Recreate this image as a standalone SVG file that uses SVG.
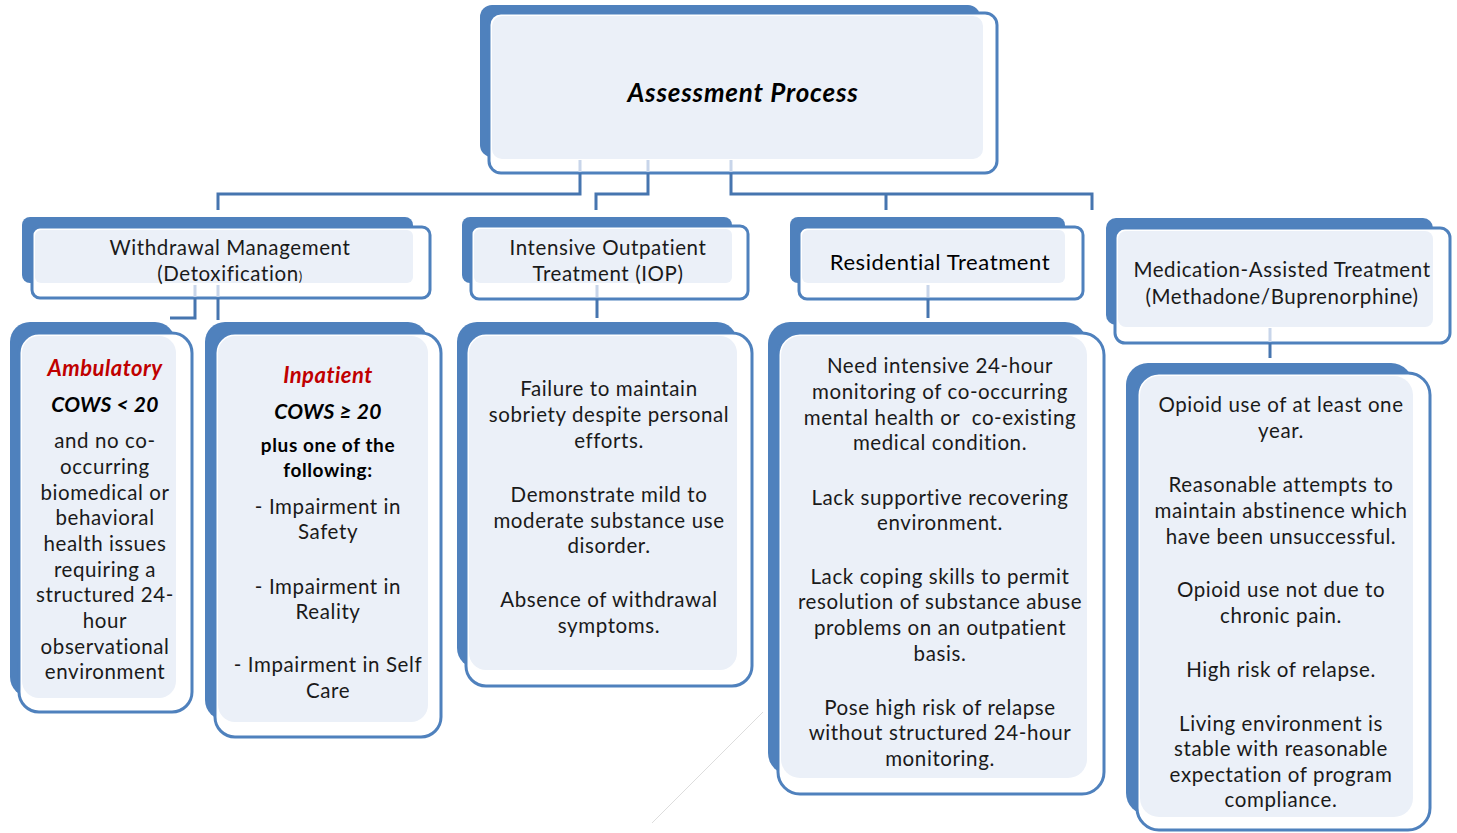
<svg xmlns="http://www.w3.org/2000/svg" width="1457" height="833" viewBox="0 0 1457 833">
<style>
.back{fill:#4F81BD}
.out{fill:#FFFFFF;stroke:#4F81BD;stroke-width:3}
.fill{fill:#EBF0F8}
.con{fill:none;stroke:#4675AF;stroke-width:3}
.faint{fill:none;stroke:#C8D5EA;stroke-width:3}
text{font-family:Lato,"Open Sans","Liberation Sans",sans-serif;font-size:20.5px;letter-spacing:0.6px;fill:#1a1a1a;text-anchor:middle}
.title{font-size:26px;letter-spacing:0.8px;font-weight:bold;font-style:italic;fill:#000}
.red{fill:#C00000;font-size:22px;letter-spacing:0.5px;font-weight:bold;font-style:italic}
.bi{font-size:21px;letter-spacing:0.3px;font-weight:bold;font-style:italic;fill:#000}
.b{font-weight:bold;font-size:19px;letter-spacing:0.6px;fill:#000}
.hd{font-size:22px;letter-spacing:0.6px;fill:#000}
</style>
<rect width="1457" height="833" fill="#FFFFFF"/>
<line x1="652" y1="823" x2="763" y2="712" stroke="#DDDDDD" stroke-width="1"/>

<g id="node-assessment">
<rect class="back" x="480" y="5" width="500" height="152" rx="12"/>
<rect class="out" x="489" y="13" width="508" height="160" rx="12"/>
<rect class="fill" x="492" y="16" width="491" height="143" rx="10"/>
<text class="title" x="743" y="102">Assessment Process</text>
</g>

<g id="node-withdrawal">
<rect class="back" x="22" y="217" width="391" height="66" rx="8"/>
<rect class="out" x="32" y="227" width="398" height="71" rx="8"/>
<rect class="fill" x="35" y="230" width="378" height="53" rx="6"/>
<text x="230" y="255">Withdrawal Management</text>
<text x="230" y="281">(Detoxification<tspan font-size="13">)</tspan></text>
</g>

<g id="node-iop">
<rect class="back" x="462" y="217" width="270" height="66" rx="8"/>
<rect class="out" x="471" y="226" width="277" height="73" rx="8"/>
<rect class="fill" x="474" y="229" width="258" height="54" rx="6"/>
<text x="608" y="255">Intensive Outpatient</text>
<text x="608" y="281">Treatment (IOP)</text>
</g>

<g id="node-residential">
<rect class="back" x="790" y="217" width="275" height="66" rx="8"/>
<rect class="out" x="799" y="227" width="284" height="72" rx="8"/>
<rect class="fill" x="802" y="230" width="263" height="53" rx="6"/>
<text class="hd" x="940" y="270">Residential Treatment</text>
</g>

<g id="node-mat">
<rect class="back" x="1106" y="218" width="327" height="107" rx="10"/>
<rect class="out" x="1115" y="228" width="335" height="115" rx="10"/>
<rect class="fill" x="1118" y="231" width="315" height="96" rx="8"/>
<text x="1282" y="277">Medication-Assisted Treatment</text>
<text x="1282" y="304">(Methadone/Buprenorphine)</text>
</g>

<g id="node-ambulatory">
<rect class="back" x="10" y="322" width="165" height="375" rx="20"/>
<rect class="out" x="19" y="333" width="173" height="379" rx="20"/>
<rect class="fill" x="22" y="336" width="154" height="362" rx="17"/>
<text class="red" x="105" y="376">Ambulatory</text>
<text class="bi" x="105" y="412">COWS &lt; 20</text>
<text x="105" y="448">and no co-</text>
<text x="105" y="474">occurring</text>
<text x="105" y="500">biomedical or</text>
<text x="105" y="525">behavioral</text>
<text x="105" y="551">health issues</text>
<text x="105" y="577">requiring a</text>
<text x="105" y="602">structured 24-</text>
<text x="105" y="628">hour</text>
<text x="105" y="654">observational</text>
<text x="105" y="679">environment</text>
</g>

<g id="node-inpatient">
<rect class="back" x="205" y="322" width="223" height="398" rx="20"/>
<rect class="out" x="215" y="333" width="226" height="404" rx="20"/>
<rect class="fill" x="218" y="336" width="210" height="386" rx="17"/>
<text class="red" x="328" y="383">Inpatient</text>
<text class="bi" x="328" y="419">COWS ≥ 20</text>
<text class="b" x="328" y="452">plus one of the</text>
<text class="b" x="328" y="477">following:</text>
<text x="328" y="514">- Impairment in</text>
<text x="328" y="539">Safety</text>
<text x="328" y="594">- Impairment in</text>
<text x="328" y="619">Reality</text>
<text x="328" y="672">- Impairment in Self</text>
<text x="328" y="698">Care</text>
</g>

<g id="node-iop-criteria">
<rect class="back" x="457" y="322" width="280" height="346" rx="20"/>
<rect class="out" x="466" y="333" width="286" height="353" rx="20"/>
<rect class="fill" x="469" y="336" width="268" height="334" rx="17"/>
<text x="609" y="396">Failure to maintain</text>
<text x="609" y="422">sobriety despite personal</text>
<text x="609" y="448">efforts.</text>
<text x="609" y="502">Demonstrate mild to</text>
<text x="609" y="528">moderate substance use</text>
<text x="609" y="553">disorder.</text>
<text x="609" y="607">Absence of withdrawal</text>
<text x="609" y="633">symptoms.</text>
</g>

<g id="node-residential-criteria">
<rect class="back" x="768" y="322" width="319" height="453" rx="22"/>
<rect class="out" x="778" y="333" width="326" height="461" rx="22"/>
<rect class="fill" x="781" y="336" width="306" height="442" rx="19"/>
<text x="940" y="373">Need intensive 24-hour</text>
<text x="940" y="399">monitoring of co-occurring</text>
<text x="940" y="425" xml:space="preserve">mental health or  co-existing</text>
<text x="940" y="450">medical condition.</text>
<text x="940" y="505">Lack supportive recovering</text>
<text x="940" y="530">environment.</text>
<text x="940" y="584">Lack coping skills to permit</text>
<text x="940" y="609">resolution of substance abuse</text>
<text x="940" y="635">problems on an outpatient</text>
<text x="940" y="661">basis.</text>
<text x="940" y="715">Pose high risk of relapse</text>
<text x="940" y="740">without structured 24-hour</text>
<text x="940" y="766">monitoring.</text>
</g>

<g id="node-mat-criteria">
<rect class="back" x="1126" y="363" width="287" height="452" rx="22"/>
<rect class="out" x="1137" y="373" width="293" height="457" rx="22"/>
<rect class="fill" x="1140" y="376" width="273" height="441" rx="19"/>
<text x="1281" y="412">Opioid use of at least one</text>
<text x="1281" y="438">year.</text>
<text x="1281" y="492">Reasonable attempts to</text>
<text x="1281" y="518">maintain abstinence which</text>
<text x="1281" y="544">have been unsuccessful.</text>
<text x="1281" y="597">Opioid use not due to</text>
<text x="1281" y="623">chronic pain.</text>
<text x="1281" y="677">High risk of relapse.</text>
<text x="1281" y="731">Living environment is</text>
<text x="1281" y="756">stable with reasonable</text>
<text x="1281" y="782">expectation of program</text>
<text x="1281" y="807">compliance.</text>
</g>

<g id="connectors">
<path class="faint" d="M580,160V172M648,160V172M731,160V172M195,285V297M218,285V297M597,285V297M928,285V297M1270,328V342"/>
<path class="con" d="M580,173V194H218V210"/>
<path class="con" d="M648,173V194H596V210"/>
<path class="con" d="M731,173V194H1092V210M886,194V210"/>
<path class="con" d="M195,298V318H170"/>
<path class="con" d="M218,298V320"/>
<path class="con" d="M597,299V318"/>
<path class="con" d="M928,299V318"/>
<path class="con" d="M1270,343V358"/>
</g>
</svg>
